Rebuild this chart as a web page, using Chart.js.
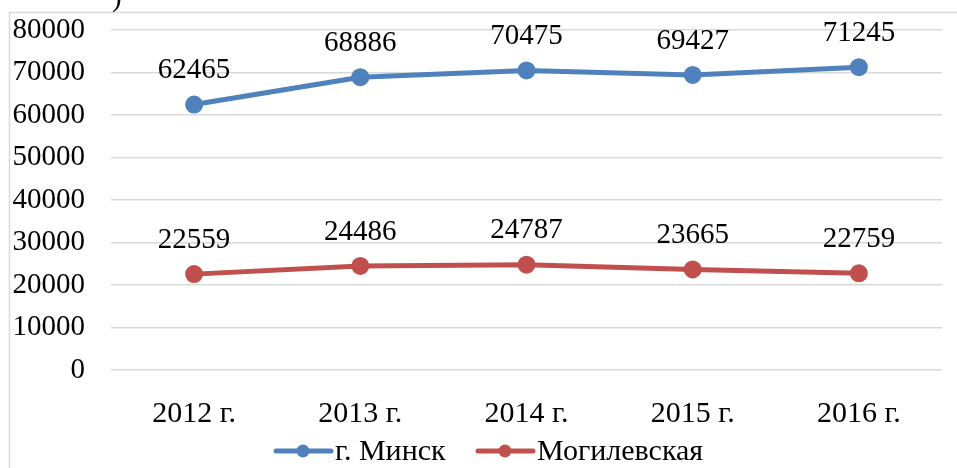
<!DOCTYPE html>
<html>
<head>
<meta charset="utf-8">
<script src="https://cdn.jsdelivr.net/npm/chart.js@4"></script>
<style>
  body { margin: 0; background: #fff; }
</style>
</head>
<body>
<canvas id="myChart" width="957" height="468"></canvas>
<script>
var years = ['2012 г.', '2013 г.', '2014 г.', '2015 г.', '2016 г.'];
var minsk = [62465, 68886, 70475, 69427, 71245];
var mogilev = [22559, 24486, 24787, 23665, 22759];
var seriesNames = ['г. Минск', 'Могилевская'];
var yTicks = [0, 10000, 20000, 30000, 40000, 50000, 60000, 70000, 80000];

var FONT = '"Liberation Serif", "Times New Roman", serif';

// labels above points, legend, frame
var extras = {
  id: 'extras',
  afterDatasetsDraw: function (chart) {
    var c = chart.ctx;
    c.save();
    c.font = '29px ' + FONT;
    c.fillStyle = '#000';
    c.textAlign = 'center';
    c.textBaseline = 'middle';
    chart.data.datasets.forEach(function (ds, i) {
      chart.getDatasetMeta(i).data.forEach(function (pt, j) {
        c.fillText(ds.data[j], pt.x, pt.y - 34);
      });
    });

    // frame
    c.strokeStyle = '#d9d9d9';
    c.lineWidth = 1.5;
    c.beginPath();
    c.moveTo(9.5, 470);
    c.lineTo(9.5, 12.5);
    c.lineTo(960, 12.5);
    c.stroke();

    // piece of caption cut off at the top
    c.textAlign = 'left';
    c.textBaseline = 'alphabetic';
    c.fillText(')', 112, 6);

    // legend
    c.font = '30px ' + FONT;
    var lx = [276, 478];
    chart.data.datasets.forEach(function (ds, i) {
      var x = lx[i], y = 451;
      c.strokeStyle = ds.borderColor;
      c.lineWidth = 5;
      c.lineCap = 'round';
      c.beginPath();
      c.moveTo(x, y);
      c.lineTo(x + 55, y);
      c.stroke();
      c.fillStyle = ds.borderColor;
      c.beginPath();
      c.arc(x + 27, y, 6.5, 0, Math.PI * 2);
      c.fill();
      c.fillStyle = '#000';
      c.textBaseline = 'middle';
      c.fillText(ds.label, x + 59, y + 1);
    });
    c.restore();
  }
};

var ctx = document.getElementById('myChart').getContext('2d');

var myChart = new Chart(ctx, {
  type: 'line',
  data: {
    labels: years,
    datasets: [{
      label: seriesNames[0],
      data: minsk,
      borderColor: '#4f81bd',
      backgroundColor: '#4f81bd',
      borderWidth: 5,
      pointRadius: 6.5,
      pointHoverRadius: 6.5,
      tension: 0
    },
    {
      label: seriesNames[1],
      data: mogilev,
      borderColor: '#c0504d',
      backgroundColor: '#c0504d',
      borderWidth: 5,
      pointRadius: 6.5,
      pointHoverRadius: 6.5,
      tension: 0
    }]
  },
  options: {
    responsive: false,
    maintainAspectRatio: false,
    animation: false,
    layout: { padding: { top: 30, right: 15, bottom: 38, left: 0 } },
    plugins: {
      legend: { display: false },
      tooltip: { enabled: false }
    },
    scales: {
      x: {
        offset: true,
        grid: { display: false },
        border: { display: false },
        ticks: { color: '#000', font: { family: FONT, size: 30 }, padding: 18, maxRotation: 0 },
        afterFit: function (s) { s.height = 60; s.paddingLeft = 0; s.paddingRight = 0; }
      },
      y: {
        min: 0,
        max: 80000,
        afterBuildTicks: function (s) { s.ticks = yTicks.map(function (v) { return { value: v }; }); },
        grid: { color: '#d9d9d9', lineWidth: 1.5, drawTicks: false },
        border: { display: false },
        ticks: {
          color: '#000', font: { family: FONT, size: 29 }, padding: 26,
          callback: function (v) { return String(v); }
        },
        afterFit: function (s) { s.width = 111; s.paddingTop = 0; s.paddingBottom = 0; }
      }
    }
  },
  plugins: [extras]
});
</script>
</body>
</html>
